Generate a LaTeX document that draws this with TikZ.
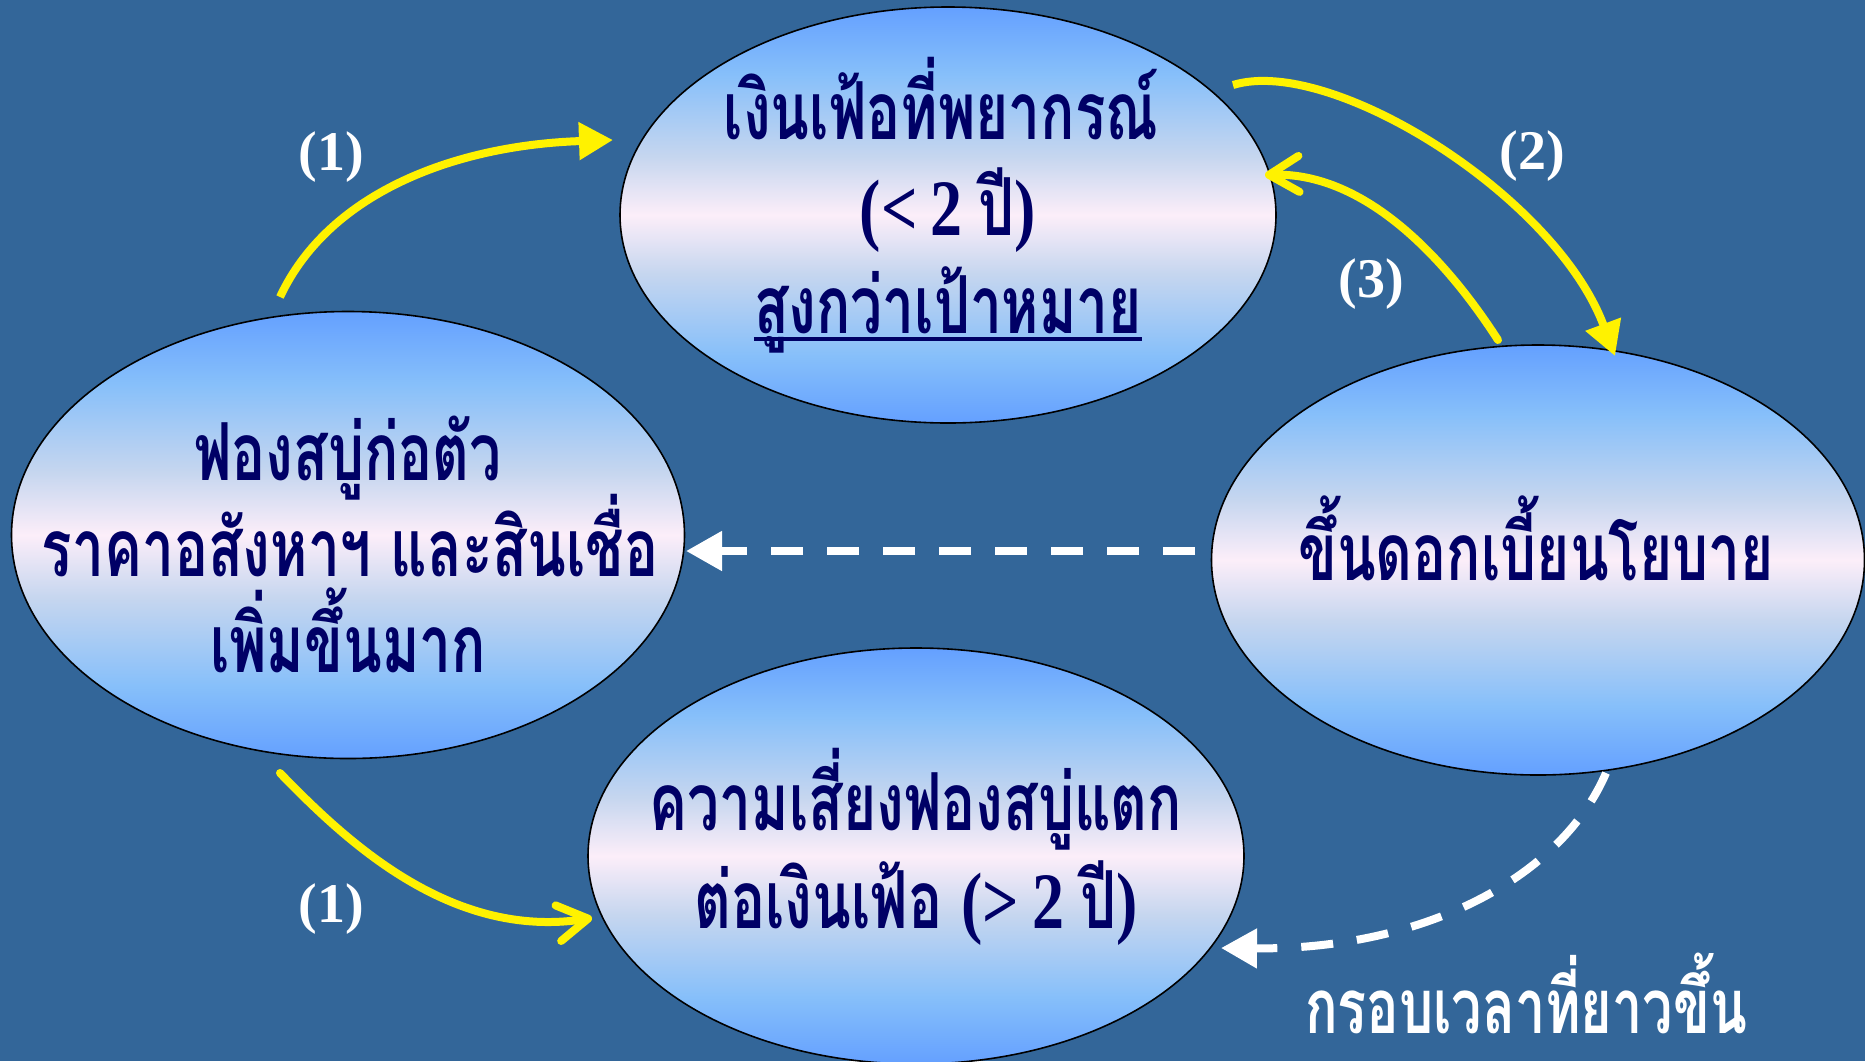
\documentclass[tikz,border=0pt]{standalone}
\usepackage{fontspec}
\usetikzlibrary{arrows.meta,calc,shapes.geometric}
\newfontfamily\thai[Script=Thai,FakeStretch=0.71]{Loma}
\newfontfamily\tnr{Liberation Serif}
\newfontfamily\tnrc[FakeStretch=0.8]{Liberation Serif}
\definecolor{bg}{HTML}{336699}
\definecolor{navy}{HTML}{000066}
\definecolor{gblue}{HTML}{64A0FF}
\definecolor{glight}{HTML}{86BFFA}
\definecolor{gmid}{HTML}{C6D6EF}
\definecolor{gpink}{HTML}{FCEEF9}
\pgfdeclareverticalshading{ellshade}{100bp}{color(0bp)=(gblue); color(25bp)=(gblue); color(33bp)=(glight); color(43bp)=(gmid); color(50bp)=(gpink); color(57bp)=(gmid); color(67bp)=(glight); color(75bp)=(gblue); color(100bp)=(gblue)}
\begin{document}
\begin{tikzpicture}[x=1pt,y=-1pt,
  ell/.style={ellipse, draw=black, line width=1.6pt, shade, shading=ellshade, inner sep=0pt},
  ttxt/.style={text=navy, font=\thai\bfseries\fontsize{80}{88}\selectfont, anchor=base, inner sep=0pt},
  wtxt/.style={text=white, font=\thai\bfseries\fontsize{76}{80}\selectfont, anchor=base, inner sep=0pt},
  lbl/.style={text=white, font=\tnr\bfseries\fontsize{56}{60}\selectfont, anchor=base, inner sep=0pt},
  yarr/.style={draw=yellow, line width=8pt},
  solidtip/.style={-{Triangle[length=34pt,width=36pt]}},
  opentip/.style={-{Straight Barb[length=30pt,width=36pt,round]}, line cap=round},
  wdash/.style={draw=white, line width=8pt, dash pattern=on 32pt off 24pt, -{Triangle[length=36pt,width=38pt]}}
]
\useasboundingbox (0,0) rectangle (1865,1061);
\fill[bg] (0,0) rectangle (1865,1061);

% ellipses
\node[ell, minimum width=656pt, minimum height=416pt] (T) at (948,215) {};
\node[ell, minimum width=673pt, minimum height=447pt] (L) at (348,535) {};
\node[ell, minimum width=653pt, minimum height=430pt] (R) at (1538,560) {};
\node[ell, minimum width=656pt, minimum height=416pt] (B) at (916,856) {};

% texts
\node[ttxt] (t1) at (941,139) {เงินเฟ้อที่พยากรณ์};
\node[ttxt] (t2) at (948,235) {{\tnrc (<\,2 }ปี{\tnrc )}};
\node[ttxt] (t3) at (948,333) {สูงกว่าเป้าหมาย};
\draw[navy, line width=3.5pt] ([yshift=-6pt]t3.base west) -- ([yshift=-6pt]t3.base east);

\node[ttxt] (l1) at (348,480) {ฟองสบู่ก่อตัว};
\node[ttxt] (l2) at (350,576) {ราคาอสังหาฯ และสินเชื่อ};
\node[ttxt] (l3) at (348,672) {เพิ่มขึ้นมาก};

\node[ttxt] (r1) at (1536,580) {ขึ้นดอกเบี้ยนโยบาย};

\node[ttxt] (b1) at (916,830) {ความเสี่ยงฟองสบู่แตก};
\node[ttxt] (b2) at (916,928) {ต่อเงินเฟ้อ {\tnrc (>\,2 }ปี{\tnrc )}};

\node[wtxt] (w1) at (1526,1033) {กรอบเวลาที่ยาวขึ้น};

% labels
\node[lbl] (n1a) at (331,170) {(1)};
\node[lbl] (n1b) at (331,922) {(1)};
\node[lbl] (n2) at (1532,169) {(2)};
\node[lbl] (n3) at (1371,297) {(3)};

% arrow endpoints
\coordinate (a1s) at (280,297);
\coordinate (a1e) at (613,140);
\coordinate (b1s) at (280,773);
\coordinate (b1e) at (592,918);
\coordinate (a2s) at (1233,85);
\coordinate (a2e) at (1615,356);
\coordinate (a3s) at (1498,340);
\coordinate (a3e) at (1265,175);
\coordinate (hs) at (1195,551);
\coordinate (he) at (686,551);
\coordinate (ds) at (1606,773);
\coordinate (de) at (1221,948);

\draw[yarr, solidtip] (a1s) .. controls (330,190) and (460,145) .. (a1e);
\draw[yarr, opentip] (b1s) .. controls (345,840) and (450,940) .. (b1e);
\draw[yarr, solidtip] (a2s) .. controls (1330,55) and (1555,195) .. (a2e);
\draw[yarr, opentip] (a3s) .. controls (1440,250) and (1360,172) .. (a3e);
\draw[wdash] (hs) -- (he);
\draw[wdash] (ds) .. controls (1560,880) and (1420,950) .. (de);
\end{tikzpicture}
\end{document}
